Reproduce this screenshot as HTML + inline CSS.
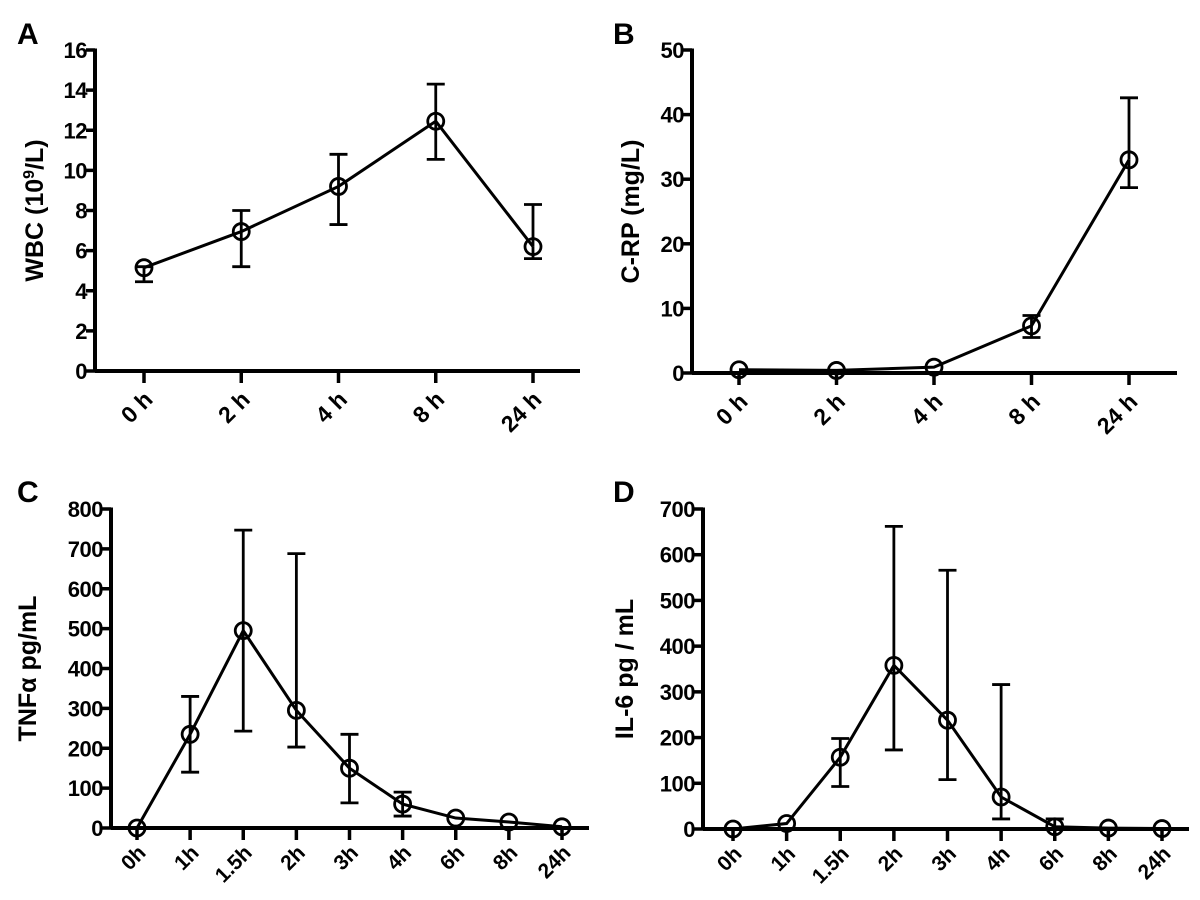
<!DOCTYPE html>
<html><head><meta charset="utf-8">
<style>
body{margin:0;background:#fff;}
svg{display:block;font-family:"Liberation Sans",Arial,sans-serif;font-weight:bold;}
</style></head>
<body>
<svg id="fig" width="1200" height="900" viewBox="0 0 1200 900">
<text x="17" y="44" font-size="30">A</text>
<text x="613" y="44" font-size="30">B</text>
<text x="17" y="502" font-size="30">C</text>
<text x="613" y="502" font-size="30">D</text>
</svg>
<script>
// Panel A data
const catsA = ["0 h","2 h","4 h","8 h","24 h"];
const valsA = [5.15, 6.95, 9.2, 12.45, 6.2];
const lowA = [4.45, 5.2, 7.3, 10.55, 5.6];
const highA = [5.2, 8.0, 10.8, 14.3, 8.3];
const ticksA = [0,2,4,6,8,10,12,14,16];
// Panel B data
const catsB = ["0 h","2 h","4 h","8 h","24 h"];
const valsB = [0.5, 0.4, 0.9, 7.3, 33.0];
const lowB = [0.5, 0.4, 0.9, 5.5, 28.7];
const highB = [0.5, 0.4, 0.9, 8.9, 42.6];
const ticksB = [0,10,20,30,40,50];
// Panel C data
const catsC = ["0h","1h","1.5h","2h","3h","4h","6h","8h","24h"];
const valsC = [0, 235, 495, 295, 150, 60, 25, 15, 3];
const lowC = [0, 140, 243, 203, 63, 30, 25, 15, 3];
const highC = [0, 330, 747, 688, 235, 90, 25, 15, 3];
const ticksC = [0,100,200,300,400,500,600,700,800];
// Panel D data
const catsD = ["0h","1h","1.5h","2h","3h","4h","6h","8h","24h"];
const valsD = [0, 12, 157, 358, 238, 70, 5, 2, 1];
const lowD = [0, 12, 93, 173, 108, 22, 0, 2, 1];
const highD = [0, 12, 198, 662, 566, 316, 22, 2, 1];
const ticksD = [0,100,200,300,400,500,600,700];

const NS = "http://www.w3.org/2000/svg";
const svg = document.getElementById('fig');
function mk(tag, attrs, parent){
  const e = document.createElementNS(NS, tag);
  for (const k in attrs) e.setAttribute(k, attrs[k]);
  (parent||svg).appendChild(e);
  return e;
}
function panel(p){
  const g = mk('g', {});
  
  
  const ymax = p.ticks[p.ticks.length-1];
  const yS = v => p.y0 - (v/ymax)*(p.y0 - p.ytop);
  const n = p.cats.length;
  const xS = i => p.x0 + (i/(n-1))*(p.xl - p.x0);
  const ya = mk('line', {x1:p.ax, y1:p.ytop-1.5, x2:p.ax, y2:p.y0+1.5, stroke:'#000','stroke-width':4}, g);
  
  
  const xa = mk('line', {x1:p.ax, y1:p.y0, x2:p.xend, y2:p.y0, stroke:'#000','stroke-width':4}, g);
  
  
  p.ticks.forEach(t => {
    const y = yS(t);
    mk('line', {x1:p.ax-9, y1:y, x2:p.ax, y2:y, stroke:'#000','stroke-width':3.5}, g);
    const tx = mk('text', {x:p.ax-8, y:y+8, 'font-size':22, 'text-anchor':'end', 'letter-spacing':'-0.5'}, g);
    tx.textContent = t;
    
    
  });
  p.cats.forEach((c,i) => {
    const x = xS(i);
    mk('line', {x1:x, y1:p.y0, x2:x, y2:p.y0+12, stroke:'#000','stroke-width':3.5}, g);
    const tx = mk('text', {x:0, y:0, 'font-size':p.fs, 'text-anchor':'end',
      transform:`translate(${x+10},${p.y0+p.ly}) rotate(-45)`}, g);
    tx.textContent = c;
    
    
  });
  const yt = mk('text', {x:0, y:0, 'font-size':25, 'text-anchor':'middle',
    transform:`translate(${p.tx},${(p.ytop+p.y0)/2}) rotate(-90)`}, g);
  yt.innerHTML = p.title;
  
  
  p.vals.forEach((v,i) => {
    const x = xS(i);
    if (p.high[i] > v) {
      mk('line', {x1:x, y1:yS(v), x2:x, y2:yS(p.high[i]), stroke:'#000','stroke-width':2.8}, g);
      mk('line', {x1:x-9, y1:yS(p.high[i]), x2:x+9, y2:yS(p.high[i]), stroke:'#000','stroke-width':2.8}, g);
    }
    if (p.low[i] < v) {
      mk('line', {x1:x, y1:yS(v), x2:x, y2:yS(p.low[i]), stroke:'#000','stroke-width':2.8}, g);
      mk('line', {x1:x-9, y1:yS(p.low[i]), x2:x+9, y2:yS(p.low[i]), stroke:'#000','stroke-width':2.8}, g);
    }
  });
  const line = mk('polyline', {points:p.vals.map((v,i)=>xS(i)+','+yS(v)).join(' '), fill:'none', stroke:'#000','stroke-width':3}, g);
  
  
  p.vals.forEach((v,i) => {
    const c = mk('circle', {cx:xS(i), cy:yS(v), r:8, fill:'none', stroke:'#000','stroke-width':2.8}, g);
    
    
  });
}
panel({name:'panel-a-wbc', cats:catsA, vals:valsA, low:lowA, high:highA, ticks:ticksA,
  ax:95, y0:371, ytop:50, x0:144, xl:533, xend:580, tx:43, fs:23, ly:30, title:'WBC (10<tspan font-size="16" dy="-9">9</tspan><tspan dy="9">/L)</tspan>'});
panel({name:'panel-b-crp', cats:catsB, vals:valsB, low:lowB, high:highB, ticks:ticksB,
  ax:692, y0:373, ytop:50, x0:739, xl:1129, xend:1177, tx:639, fs:23, ly:30, title:'C-RP (mg/L)'});
panel({name:'panel-c-tnf', cats:catsC, vals:valsC, low:lowC, high:highC, ticks:ticksC,
  ax:111, y0:828, ytop:509, x0:137, xl:562, xend:589, tx:36, fs:21, ly:26, title:'TNFα pg/mL'});
panel({name:'panel-d-il6', cats:catsD, vals:valsD, low:lowD, high:highD, ticks:ticksD,
  ax:703, y0:829, ytop:509, x0:733, xl:1162, xend:1189, tx:633, fs:21, ly:26, title:'IL-6 pg / mL'});
</script>
</body></html>
